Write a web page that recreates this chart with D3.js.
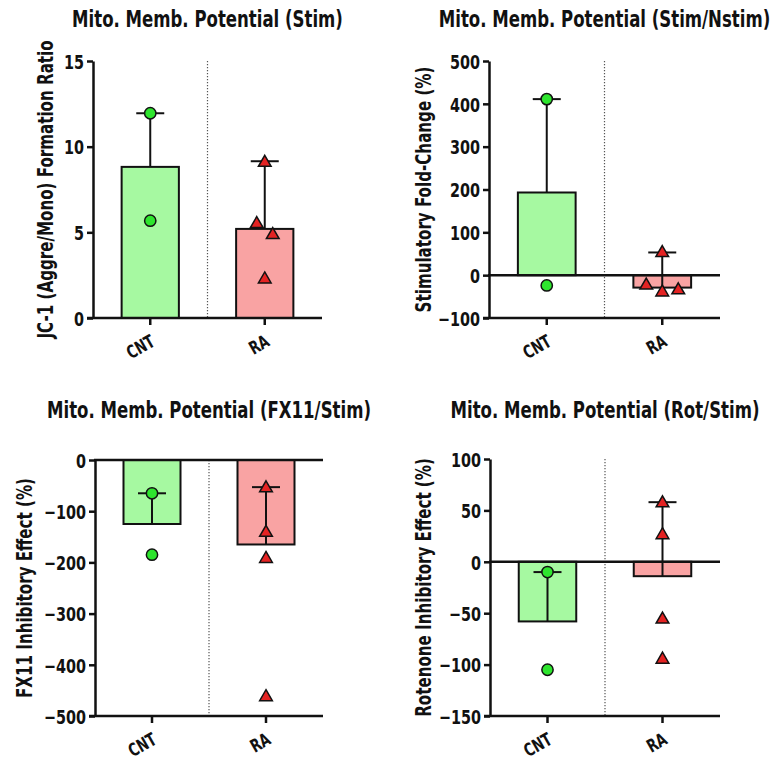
<!DOCTYPE html>
<html>
<head>
<meta charset="utf-8">
<script src="https://cdn.jsdelivr.net/npm/d3@7"></script>
<style>
  html, body { margin: 0; padding: 0; background: #fff; }
  svg { display: block; }
  text { font-family: "DejaVu Sans Condensed", "DejaVu Sans", sans-serif; font-weight: bold; fill: #111; }
</style>
</head>
<body>
<svg id="chart" width="774" height="757"></svg>
<script>
// ---------- DATA ----------
const categories = ["CNT", "RA"];

const titles = [
  "Mito. Memb. Potential (Stim)",
  "Mito. Memb. Potential (Stim/Nstim)",
  "Mito. Memb. Potential (FX11/Stim)",
  "Mito. Memb. Potential (Rot/Stim)"
];
const yLabels = [
  "JC-1 (Aggre/Mono) Formation Ratio",
  "Stimulatory Fold-Change (%)",
  "FX11 Inhibitory Effect (%)",
  "Rotenone Inhibitory Effect (%)"
];
const yDomains = [[0, 15], [-100, 500], [-500, 0], [-150, 100]];
const yTicks = [
  [0, 5, 10, 15],
  [-100, 0, 100, 200, 300, 400, 500],
  [-500, -400, -300, -200, -100, 0],
  [-150, -100, -50, 0, 50, 100]
];

// bar means [CNT, RA]
const stimMean = [8.82, 5.2];
const ratioMean = [193, -29];
const fx11Mean = [-125, -165];
const rotMean = [-58, -14];

// upper end of error bar [CNT, RA]
const stimErrTop = [11.95, 9.15];
const ratioErrTop = [411, 53];
const fx11ErrTop = [-65, -53];
const rotErrTop = [-10, 58];

// individual points
const stimCNT = [11.95, 5.68];
const stimRA = [9.07, 5.49, 4.85, 2.26];
const ratioCNT = [411, -24];
const ratioRA = [52, -40, -24, -35];
const fx11CNT = [-65, -185];
const fx11RA = [-55, -142, -193, -463];
const rotCNT = [-10, -105];
const rotRA = [57, 26, -56, -95];

// ---------- STYLE / LAYOUT ----------
const barFill = ["#a6f9a1", "#f9a3a3"];
const ptFill = ["#2ee52e", "#e42323"];
const CONDENSE = 0.8;

const layouts = [
  { left: 93, right: 322, top: 61, bottom: 318, titleY: 27, labelX: 46 },
  { left: 489, right: 720, top: 61, bottom: 318, titleY: 27, labelX: 424 },
  { left: 95, right: 323, top: 460, bottom: 716, titleY: 418, labelX: 25 },
  { left: 490, right: 720, top: 459, bottom: 716, titleY: 418, labelX: 424 }
];

const panels = [
  { mean: stimMean, err: stimErrTop, pts: [stimCNT, stimRA] },
  { mean: ratioMean, err: ratioErrTop, pts: [ratioCNT, ratioRA] },
  { mean: fx11Mean, err: fx11ErrTop, pts: [fx11CNT, fx11RA] },
  { mean: rotMean, err: rotErrTop, pts: [rotCNT, rotRA] }
];

function condense(sel) {
  sel.each(function () {
    const len = this.getComputedTextLength();
    if (len > 0) {
      d3.select(this).attr("textLength", len * CONDENSE).attr("lengthAdjust", "spacingAndGlyphs");
    }
  });
}

const svg = d3.select("#chart");

panels.forEach((p, i) => {
  const L = layouts[i];
  const g = svg.append("g");
  const x = d3.scaleBand().domain(categories).range([L.left, L.right]).padding(0);
  const y = d3.scaleLinear().domain(yDomains[i]).range([L.bottom, L.top]);
  const bw = x.bandwidth() * 0.5;
  const y0 = y(0);

  // divider
  g.append("line")
    .attr("x1", x("RA")).attr("x2", x("RA"))
    .attr("y1", L.top).attr("y2", L.bottom)
    .attr("stroke", "#555").attr("stroke-width", 1.2)
    .attr("stroke-dasharray", "1.2,1.8");

  // bars
  g.selectAll("rect.bar").data(categories).enter().append("rect")
    .attr("x", d => x(d) + x.bandwidth() / 2 - bw / 2)
    .attr("width", bw)
    .attr("y", (d, j) => Math.min(y(p.mean[j]), y0))
    .attr("height", (d, j) => Math.abs(y(p.mean[j]) - y0))
    .attr("fill", (d, j) => barFill[j])
    .attr("stroke", "#111").attr("stroke-width", 2);

  // error bars
  categories.forEach((c, j) => {
    const cx = x(c) + x.bandwidth() / 2;
    g.append("line").attr("x1", cx).attr("x2", cx)
      .attr("y1", y(p.mean[j])).attr("y2", y(p.err[j]))
      .attr("stroke", "#111").attr("stroke-width", 2);
    g.append("line").attr("x1", cx - 14).attr("x2", cx + 14)
      .attr("y1", y(p.err[j])).attr("y2", y(p.err[j]))
      .attr("stroke", "#111").attr("stroke-width", 2);
  });

  // zero line (for panels with negative values)
  if (yDomains[i][0] < 0) {
    g.append("line").attr("x1", L.left - 1).attr("x2", L.right)
      .attr("y1", y0).attr("y2", y0)
      .attr("stroke", "#111").attr("stroke-width", 2.5);
  }

  // points with simple swarm for overlaps
  categories.forEach((c, j) => {
    const cx = x(c) + x.bandwidth() / 2;
    const vals = p.pts[j];
    const py = vals.map(v => y(v));
    const group = vals.map(() => -1);
    let gid = 0;
    vals.forEach((v, k) => {
      if (group[k] >= 0) return;
      group[k] = gid;
      let changed = true;
      while (changed) {
        changed = false;
        vals.forEach((w, m) => {
          if (group[m] >= 0) return;
          if (vals.some((u, n) => group[n] === gid && Math.abs(py[n] - py[m]) < 12)) {
            group[m] = gid; changed = true;
          }
        });
      }
      gid++;
    });
    const slotsFor = n => n === 1 ? [0] : n === 2 ? [-0.5, 0.5] : n === 3 ? [0, -1, 1] : d3.range(n).map(k => k - (n - 1) / 2);
    const offs = vals.map(() => 0);
    d3.range(gid).forEach(gg => {
      const members = vals.map((v, k) => k).filter(k => group[k] === gg);
      const slots = slotsFor(members.length);
      members.forEach((k, q) => offs[k] = slots[q] * 16);
    });
    const sym = j === 0 ? d3.symbol().type(d3.symbolCircle).size(100)
                        : d3.symbol().type(d3.symbolTriangle).size(70);
    g.selectAll(null).data(vals).enter().append("path")
      .attr("d", sym)
      .attr("transform", (v, k) => `translate(${cx + offs[k]},${y(v)})`)
      .attr("fill", ptFill[j]).attr("stroke", "#111").attr("stroke-width", 1.5);
  });

  // y axis
  const ya = g.append("g").attr("transform", `translate(${L.left},0)`)
    .call(d3.axisLeft(y).tickValues(yTicks[i]).tickSize(6).tickPadding(3).tickSizeOuter(0));
  ya.select(".domain").attr("stroke", "#111").attr("stroke-width", 2.5);
  ya.selectAll(".tick line").attr("stroke", "#111").attr("stroke-width", 2.5);
  ya.selectAll(".tick text").attr("font-size", 20).attr("fill", "#111")
    .attr("font-family", null).attr("dy", "0.36em").call(condense);

  // x axis
  const xa = g.append("g").attr("transform", `translate(0,${L.bottom})`)
    .call(d3.axisBottom(x).tickSize(7).tickSizeOuter(0).tickFormat(""));
  xa.select(".domain").attr("stroke", "#111").attr("stroke-width", 2.5)
    .attr("d", `M${L.left - 6},0H${L.right}`);
  xa.selectAll(".tick line").attr("stroke", "#111").attr("stroke-width", 2.5);

  // rotated category labels
  g.selectAll(null).data(categories).enter().append("text")
    .attr("transform", d => `translate(${x(d) + x.bandwidth() / 2 + 6},${L.bottom + 27}) rotate(-30)`)
    .attr("text-anchor", "end")
    .attr("font-size", 18)
    .text(d => d).call(condense);

  // title
  g.append("text")
    .attr("x", (L.left + L.right) / 2).attr("y", L.titleY)
    .attr("text-anchor", "middle").attr("font-size", 23)
    .text(titles[i]).call(condense);

  // y label
  g.append("text")
    .attr("transform", `translate(${L.labelX},${(L.top + L.bottom) / 2}) rotate(-90)`)
    .attr("text-anchor", "middle").attr("dominant-baseline", "central")
    .attr("font-size", 21)
    .text(yLabels[i]).call(condense);
});
</script>
</body>
</html>
